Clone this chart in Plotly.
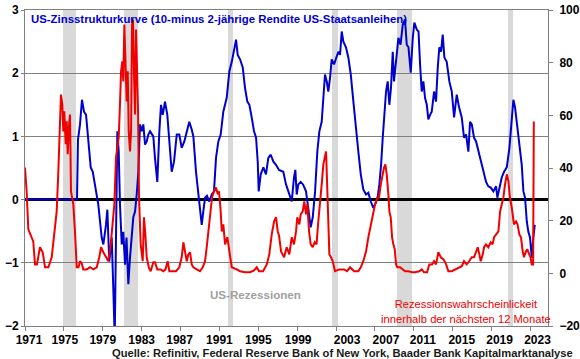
import plotly.graph_objects as go

# ---------------- data ----------------
spread_years = [1971.0, 1976.35, 1976.45, 1976.66, 1976.86, 1977.07, 1977.28, 1977.51, 1977.76, 1977.97,
                1978.20, 1978.54, 1978.89, 1979.06, 1979.33, 1979.47, 1979.67, 1979.92, 1980.08, 1980.23,
                1980.36, 1980.50, 1980.64, 1980.77, 1980.95, 1981.11, 1981.29, 1981.44, 1981.63, 1981.80,
                1982.14, 1982.32, 1982.49, 1982.66, 1982.83, 1983.01, 1983.17, 1983.35, 1983.52, 1983.69,
                1983.86, 1984.20, 1984.37, 1984.61, 1984.82, 1984.99, 1985.17, 1985.40, 1985.64, 1985.85,
                1986.09, 1986.33, 1986.61, 1986.87, 1987.12, 1987.39, 1987.64, 1987.90, 1988.15, 1988.32,
                1988.59, 1988.93, 1989.18, 1989.34, 1989.52, 1989.72, 1989.96, 1990.21, 1990.44, 1990.65,
                1990.89, 1991.13, 1991.40, 1991.75, 1992.02, 1992.27, 1992.50, 1992.71, 1992.88, 1993.12,
                1993.40, 1993.63, 1993.87, 1994.08, 1994.32, 1994.56, 1994.77, 1994.94, 1995.04, 1995.25,
                1995.52, 1995.79, 1996.03, 1996.28, 1996.55, 1996.82, 1997.13, 1997.57, 1997.85, 1998.09,
                1998.44, 1998.67, 1998.81, 1998.95, 1999.12, 1999.36, 1999.60, 1999.91, 2000.15, 2000.39,
                2000.60, 2000.84, 2001.07, 2001.28, 2001.52, 2001.69, 2001.86, 2002.04, 2002.20, 2002.38,
                2002.55, 2002.79, 2003.00, 2003.23, 2003.41, 2003.58, 2003.75, 2004.02, 2004.26, 2004.51,
                2004.78, 2005.05, 2005.29, 2005.54, 2005.80, 2006.08, 2006.32, 2006.57, 2006.83, 2007.06,
                2007.29, 2007.45, 2007.63, 2007.80, 2007.97, 2008.14, 2008.31, 2008.48, 2008.65, 2008.83,
                2008.96, 2009.17, 2009.41, 2009.63, 2009.86, 2010.09, 2010.27, 2010.45, 2010.68, 2010.89,
                2011.05, 2011.30, 2011.48, 2011.64, 2011.81, 2011.98, 2012.15, 2012.33, 2012.49, 2012.67,
                2012.84, 2013.08, 2013.28, 2013.46, 2013.62, 2013.80, 2013.97, 2014.14, 2014.38, 2014.65,
                2014.90, 2015.14, 2015.41, 2015.65, 2015.93, 2016.16, 2016.37, 2016.61, 2016.78, 2016.96,
                2017.19, 2017.40, 2017.64, 2017.88, 2018.15, 2018.43, 2018.66, 2018.91, 2019.18, 2019.46,
                2019.59, 2019.80, 2020.04, 2020.28, 2020.56, 2020.83, 2021.07, 2021.24, 2021.41, 2021.59,
                2021.75, 2021.93, 2022.10, 2022.27, 2022.44, 2022.62, 2022.78, 2022.95, 2023.13, 2023.29,
                2023.44]
spread_values = [0.00, 0.00, 0.95, 1.19, 1.58, 1.39, 1.34, 0.87, 0.51, 0.44,
                 0.24, -0.08, -0.60, -0.71, -0.40, -0.16, -0.98, -0.60, -1.39, -2.20,
                 -0.60, 1.08, 0.76, -0.08, -0.71, -0.51, -1.03, -0.60, -1.34, -0.92,
                 -0.28, -0.19, 0.08, 0.44, 1.19, 1.08, 1.19, 0.87, 0.92, 1.03,
                 1.08, 1.00, 0.66, 0.28, 1.08, 1.50, 1.34, 1.55, 1.34, 0.98,
                 0.44, 0.60, 1.03, 1.03, 0.82, 0.92, 1.08, 1.23, 1.11, 1.00,
                 0.44, -0.08, -0.40, -0.19, 0.03, 0.06, -0.03, 0.08, 0.13, 0.66,
                 0.92, 1.03, 1.39, 1.61, 2.03, 2.18, 2.34, 2.53, 2.29, 2.22,
                 2.09, 1.77, 1.55, 1.50, 1.30, 1.08, 0.98, 0.60, 0.13, 0.40,
                 0.51, 0.40, 0.66, 0.71, 0.60, 0.55, 0.47, 0.44, 0.24, 0.13,
                 -0.03, 0.35, 0.47, 0.08, 0.24, 0.28, 0.24, 0.13, -0.13, -0.44,
                 -0.28, 0.13, 0.76, 1.08, 1.23, 1.71, 1.98, 1.87, 1.71, 1.93,
                 2.22, 2.14, 2.25, 2.34, 2.29, 2.66, 2.50, 2.41, 2.25, 1.98,
                 1.55, 1.08, 0.76, 0.40, 0.16, 0.08, 0.11, -0.03, -0.13, -0.06,
                 0.05, 0.24, 0.55, 0.98, 1.34, 1.71, 1.87, 1.50, 1.77, 2.34,
                 1.87, 2.25, 2.56, 2.45, 2.77, 2.85, 2.45, 2.41, 2.01, 2.56,
                 2.80, 2.69, 2.66, 2.14, 1.71, 1.87, 1.61, 1.50, 1.27, 1.34,
                 1.39, 1.71, 1.55, 2.09, 2.41, 2.34, 2.61, 2.25, 2.18, 1.87,
                 1.71, 1.30, 1.66, 1.46, 1.30, 0.98, 1.03, 0.76, 1.23, 1.19,
                 0.98, 0.92, 0.76, 0.60, 0.44, 0.28, 0.21, 0.19, 0.13, 0.21,
                 0.03, 0.19, 0.35, 0.44, 0.51, 0.82, 1.34, 1.58, 1.46, 1.23,
                 1.08, 0.82, 0.55, 0.13, 0.03, -0.35, -0.51, -0.60, -0.92, -0.60,
                 -0.40]

prob_years = [1971.00, 1971.17, 1971.34, 1971.69, 1971.85, 1972.03, 1972.23, 1972.54, 1972.82, 1973.06,
              1973.40, 1973.75, 1974.01, 1974.26, 1974.43, 1974.60, 1974.70, 1974.84, 1974.94, 1975.04,
              1975.19, 1975.29, 1975.39, 1975.53, 1975.63, 1975.73, 1975.87, 1975.97, 1976.14, 1976.32,
              1976.50, 1976.66, 1976.83, 1977.00, 1977.35, 1977.69, 1978.03, 1978.38, 1978.64, 1978.82,
              1979.06, 1979.33, 1979.57, 1979.82, 1980.02, 1980.19, 1980.36, 1980.50, 1980.64, 1980.77,
              1980.88, 1981.01, 1981.11, 1981.22, 1981.36, 1981.46, 1981.57, 1981.67, 1981.80, 1981.91,
              1982.01, 1982.11, 1982.21, 1982.32, 1982.42, 1982.52, 1982.63, 1982.73, 1982.90, 1983.11,
              1983.24, 1983.38, 1983.52, 1983.73, 1983.93, 1984.20, 1984.37, 1984.61, 1984.96, 1985.23,
              1985.45, 1985.68, 1985.85, 1986.20, 1986.53, 1986.87, 1987.12, 1987.29, 1987.46, 1987.64,
              1987.80, 1987.98, 1988.15, 1988.32, 1988.66, 1989.00, 1989.28, 1989.52, 1989.69, 1989.86,
              1990.03, 1990.24, 1990.44, 1990.65, 1990.83, 1990.96, 1991.13, 1991.24, 1991.40, 1991.58,
              1991.81, 1992.02, 1992.27, 1992.78, 1993.12, 1993.63, 1994.15, 1994.56, 1994.84, 1995.07,
              1995.49, 1995.87, 1996.13, 1996.38, 1996.62, 1996.82, 1997.00, 1997.13, 1997.34, 1997.65,
              1997.92, 1998.19, 1998.44, 1998.67, 1998.88, 1999.01, 1999.22, 1999.36, 1999.57, 1999.73,
              1999.91, 2000.04, 2000.22, 2000.39, 2000.60, 2000.80, 2000.99, 2001.17, 2001.35, 2001.52,
              2001.69, 2001.86, 2001.97, 2002.07, 2002.17, 2002.31, 2002.48, 2002.66, 2002.89, 2003.34,
              2003.82, 2004.13, 2004.44, 2004.86, 2005.29, 2005.54, 2005.80, 2006.08, 2006.32, 2006.57,
              2006.77, 2007.01, 2007.25, 2007.42, 2007.60, 2007.76, 2007.93, 2008.07, 2008.21, 2008.38,
              2008.48, 2008.62, 2008.76, 2008.89, 2009.04, 2009.17, 2009.30, 2009.58, 2009.86, 2010.09,
              2010.43, 2010.81, 2011.12, 2011.56, 2011.81, 2012.05, 2012.36, 2012.59, 2012.87, 2013.08,
              2013.28, 2013.52, 2013.77, 2014.05, 2014.32, 2014.55, 2014.90, 2015.24, 2015.58, 2015.93,
              2016.16, 2016.44, 2016.68, 2016.96, 2017.19, 2017.40, 2017.57, 2017.74, 2017.88, 2018.09,
              2018.22, 2018.43, 2018.66, 2018.91, 2019.10, 2019.25, 2019.46, 2019.70, 2019.87, 2020.04,
              2020.21, 2020.38, 2020.56, 2020.73, 2020.88, 2021.07, 2021.17, 2021.30, 2021.51, 2021.67,
              2021.85, 2022.02, 2022.20, 2022.33, 2022.53, 2022.67, 2022.87, 2023.00, 2023.13, 2023.27,
              2023.34]
prob_values = [40.2, 31.1, 16.7, 13.7, 12.1, 3.4, 3.4, 9.9, 8.0, 2.3,
               2.3, 6.1, 14.8, 23.5, 38.7, 53.9, 67.9, 64.1, 53.9, 61.5,
               49.0, 57.7, 45.2, 56.5, 60.3, 31.1, 27.3, 26.2, 15.9, 2.3,
               2.3, 4.6, 3.8, 1.5, 1.5, 2.3, 1.5, 2.3, 6.1, 9.9,
               8.0, 6.1, 4.6, 11.0, 21.3, 26.2, 44.0, 47.8, 51.6, 64.1,
               76.7, 80.5, 72.9, 94.5, 76.7, 65.3, 76.7, 53.9, 46.3, 53.9,
               94.5, 96.4, 76.7, 60.3, 92.6, 76.7, 61.5, 28.8, 11.0, 4.6,
               21.3, 14.8, 6.1, 2.3, 0.8, 4.2, 4.2, 1.5, 1.5, 0.8,
               1.5, 4.6, 0.8, 0.8, 0.8, 2.3, 6.1, 11.8, 8.3, 4.6,
               7.2, 8.0, 3.4, 2.3, 1.5, 0.8, 2.3, 4.6, 9.9, 15.9,
               23.5, 28.8, 31.1, 32.6, 30.0, 31.1, 23.5, 15.9, 18.6, 11.0,
               13.7, 8.3, 2.3, 1.5, 0.8, 0.4, 0.4, 1.1, 2.3, 0.8,
               0.8, 3.4, 7.2, 14.8, 19.7, 21.3, 15.9, 14.4, 8.3, 6.1,
               9.9, 7.2, 13.7, 11.0, 15.9, 21.3, 18.6, 22.4, 23.5, 27.3,
               22.4, 26.2, 15.9, 11.0, 9.9, 11.8, 11.0, 19.7, 26.2, 33.8,
               41.4, 45.2, 46.3, 34.9, 19.7, 7.2, 6.1, 4.6, 0.8, 1.5,
               1.5, 0.8, 2.3, 0.8, 0.8, 2.3, 4.6, 8.3, 13.7, 18.6,
               22.4, 26.2, 28.8, 28.8, 33.8, 37.6, 40.2, 41.4, 37.6, 30.0,
               23.5, 21.3, 13.7, 11.0, 9.1, 3.4, 2.3, 2.3, 1.5, 0.8,
               0.8, 0.4, 0.4, 0.8, 1.5, 0.4, 0.4, 3.4, 3.4, 4.6,
               3.4, 8.0, 6.1, 5.3, 3.4, 0.8, 0.8, 1.5, 2.3, 2.7,
               4.6, 3.4, 4.6, 6.1, 6.1, 8.3, 9.9, 7.2, 4.6, 7.2,
               9.9, 11.0, 9.9, 11.8, 11.0, 13.7, 14.8, 15.9, 23.5, 26.2,
               28.8, 33.8, 37.6, 34.9, 28.8, 25.0, 21.3, 18.6, 19.7, 18.6,
               14.8, 13.7, 8.3, 6.1, 8.3, 9.1, 7.2, 6.1, 3.4, 3.4,
               57.7]

recession_start = [1974.91, 1981.19, 1991.88, 2002.58, 2009.27, 2020.69]
recession_end = [1976.25, 1982.63, 1992.40, 2003.20, 2010.81, 2021.21]

year_ticks = list(range(1971, 2024, 4))
year_labels = [str(y) for y in year_ticks]
# the original chart prints the later year labels slightly right of their tick marks
year_label_pos = [1971.41, 1975.10, 1979.0, 1983.0, 1986.9, 1991.0, 1995.0, 1999.1,
                  2004.13, 2008.13, 2011.93, 2015.93, 2019.82, 2023.72]
left_ticks = [-2, -1, 0, 1, 2, 3]
right_ticks = [-20, 0, 20, 40, 60, 80, 100]

title_text = "US-Zinsstrukturkurve (10-minus 2-jährige Rendite US-Staatsanleihen)"
recession_label = "US-Rezessionen"
prob_label = "Rezessionswahrscheinlickeit<br>innerhalb der nächsten 12 Monate"
source_text = "Quelle: Refinitiv, Federal Reserve Bank of New York, Baader Bank Kapitalmarktanalyse"

# ---------------- figure ----------------
BLUE = "#0000CC"
RED = "#F00000"
FONT = "Liberation Sans, Arial, sans-serif"
X_RANGE = [1971, 2024.8]

fig = go.Figure()

fig.add_trace(go.Scatter(x=spread_years, y=spread_values, mode="lines",
                         line=dict(color=BLUE, width=2), xaxis="x", yaxis="y",
                         showlegend=False, hoverinfo="skip"))
fig.add_trace(go.Scatter(x=prob_years, y=prob_values, mode="lines",
                         line=dict(color=RED, width=2), xaxis="x", yaxis="y2",
                         showlegend=False, hoverinfo="skip"))
# invisible trace so the label-only x axis is drawn
fig.add_trace(go.Scatter(x=[X_RANGE[0]], y=[0], xaxis="x2", yaxis="y", mode="markers",
                         marker=dict(opacity=0), showlegend=False, hoverinfo="skip"))

for s, e in zip(recession_start, recession_end):
    fig.add_shape(type="rect", xref="x", yref="paper", x0=s, x1=e, y0=0, y1=1,
                  fillcolor="#D9D9D9", line=dict(width=0), layer="below")

tickfont = dict(family=FONT, size=12, color="black", weight="bold")

fig.update_layout(
    width=580, height=359,
    margin=dict(l=25, r=32, t=10, b=33, autoexpand=False),
    paper_bgcolor="white", plot_bgcolor="white",
    font=dict(family=FONT),
    xaxis=dict(range=X_RANGE, tickvals=year_ticks, showticklabels=False, automargin=False,
               ticks="outside", ticklen=4, tickcolor="#808080", showgrid=False, zeroline=False,
               showline=True, linecolor="#808080", linewidth=1, mirror=True),
    xaxis2=dict(range=X_RANGE, overlaying="x", anchor="y", side="bottom", automargin=False,
                tickvals=year_label_pos, ticktext=year_labels, ticks="outside", ticklen=3,
                tickcolor="rgba(0,0,0,0)", showgrid=False, zeroline=False, showline=False,
                tickfont=tickfont),
    yaxis=dict(range=[-2, 3], tickvals=left_ticks, ticks="outside", ticklen=3, tickcolor="#808080",
               showgrid=True, gridcolor="#808080", gridwidth=1, automargin=False,
               zeroline=True, zerolinecolor="black", zerolinewidth=2.5,
               showline=True, linecolor="#808080", linewidth=1, tickfont=tickfont),
    yaxis2=dict(range=[-20, 100], tickvals=right_ticks, overlaying="y", side="right", anchor="x",
                ticks="outside", ticklen=4, tickcolor="#808080", showgrid=False, zeroline=False,
                showline=True, linecolor="#808080", linewidth=1, tickfont=tickfont,
                automargin=False, ticklabelstandoff=4),
    annotations=[
        dict(text=title_text, xref="paper", yref="paper", x=0.008, y=0.971, xanchor="left",
             yanchor="middle", showarrow=False,
             font=dict(family=FONT, size=11.4, color=BLUE, weight="bold")),
        dict(text=recession_label, xref="paper", yref="paper", x=(255 - 25) / 523, y=(326 - 294) / 316,
             xanchor="center", yanchor="middle", showarrow=False,
             font=dict(family=FONT, size=11.6, color="#A0A0A0", weight="bold")),
        dict(text=prob_label, xref="paper", yref="paper", x=(466 - 25) / 523, y=(326 - 311) / 316,
             xanchor="center", yanchor="middle", showarrow=False, align="center",
             font=dict(family=FONT, size=11.2, color=RED)),
        dict(text=source_text, xref="paper", yref="paper", x=(575 - 25) / 523, y=(326 - 353) / 316,
             xanchor="right", yanchor="middle", showarrow=False,
             font=dict(family=FONT, size=11.2, color="#1a1a1a", weight="bold")),
    ],
)

fig.write_html("out.html", config={"displayModeBar": False},
               post_script="document.body.style.margin='0';document.body.style.padding='0';")
